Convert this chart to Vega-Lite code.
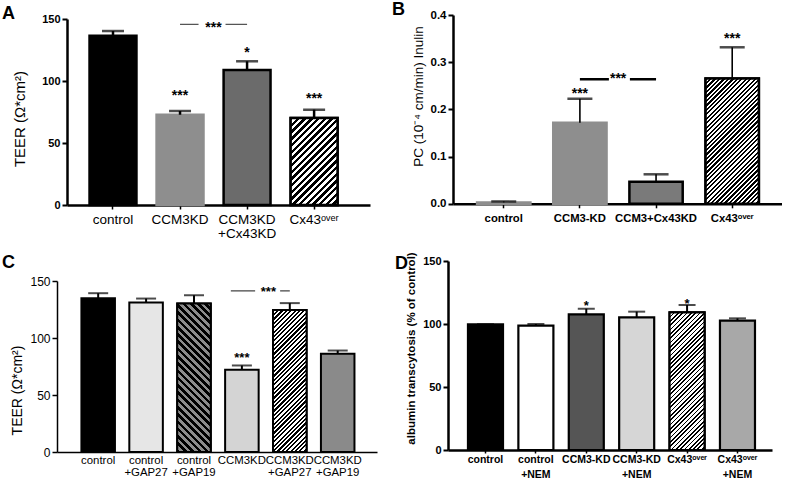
{
  "$schema": "https://vega.github.io/schema/vega-lite/v6.json",
  "background": "white",
  "padding": {"left": 2, "top": 1, "right": 0, "bottom": 0},
  "autosize": {"type": "pad"},
  "config": {
    "view": {"stroke": null},
    "font": "Liberation Sans",
    "axis": {"labelFont": "Liberation Sans", "titleFont": "Liberation Sans", "labelColor": "#000", "titleColor": "#000", "domainColor": "#000", "tickColor": "#000", "grid": false},
    "title": {"font": "Liberation Sans", "color": "#000"},
    "text": {"font": "Liberation Sans", "color": "#000"}
  },
  "resolve": {"scale": {"fill": "independent", "stroke": "independent"}},
  "datasets": {
    "A": [
      {"g": "control", "v": 136.5, "hi": 140.3, "s": "", "sy": 0},
      {"g": "CCM3KD", "v": 72.8, "hi": 75.8, "s": "***", "sy": 84.3},
      {"g": "CCM3KD|+Cx43KD", "v": 108.9, "hi": 115.9, "s": "*", "sy": 119},
      {"g": "Cx43ᵒᵛᵉʳ", "v": 70.2, "hi": 76.9, "s": "***", "sy": 81.9}
    ],
    "Asig": [{"a": "CCM3KD", "b": "CCM3KD|+Cx43KD", "y": 145.7, "ty": 139.7, "t": "***"}],
    "B": [
      {"g": "control", "v": 0.003, "hi": 0.005, "s": "", "sy": 0},
      {"g": "CCM3-KD", "v": 0.1718, "hi": 0.2227, "s": "***", "sy": 0.2241},
      {"g": "CCM3+Cx43KD", "v": 0.0468, "hi": 0.0625, "s": "", "sy": 0},
      {"g": "Cx43ᵒᵛᵉʳ", "v": 0.2655, "hi": 0.3316, "s": "***", "sy": 0.3407}
    ],
    "Bsig": [{"a": "CCM3-KD", "b": "CCM3+Cx43KD", "y": 0.2638, "ty": 0.2559, "t": "***"}],
    "C": [
      {"g": "control", "v": 134.9, "hi": 139.3, "s": "", "sy": 0},
      {"g": "control|+GAP27", "v": 131.1, "hi": 134.6, "s": "", "sy": 0},
      {"g": "control|+GAP19", "v": 130.2, "hi": 137.5, "s": "", "sy": 0},
      {"g": "CCM3KD", "v": 72.1, "hi": 75.9, "s": "***", "sy": 78.9},
      {"g": "CCM3KD|+GAP27", "v": 124.5, "hi": 130.6, "s": "", "sy": 0},
      {"g": "CCM3KD|+GAP19", "v": 86.1, "hi": 89, "s": "", "sy": 0}
    ],
    "Csig": [{"a": "CCM3KD", "b": "CCM3KD|+GAP27", "y": 141.3, "ty": 136.5, "t": "***"}],
    "D": [
      {"g": "control", "v": 99.8, "hi": 99.8, "s": "", "sy": 0},
      {"g": "control|+NEM", "v": 98.7, "hi": 100, "s": "", "sy": 0},
      {"g": "CCM3-KD", "v": 107.7, "hi": 112.1, "s": "*", "sy": 111.1},
      {"g": "CCM3-KD|+NEM", "v": 105.3, "hi": 109.8, "s": "", "sy": 0},
      {"g": "Cx43ᵒᵛᵉʳ", "v": 109.3, "hi": 115.1, "s": "*", "sy": 112.7},
      {"g": "Cx43ᵒᵛᵉʳ|+NEM", "v": 102.6, "hi": 104.5, "s": "", "sy": 0}
    ]
  },
  "columns": 2,
  "spacing": {"row": 56, "column": 71},
  "bounds": "flush",
  "concat": [
    {
      "width": 320, "height": 190,
      "title": {"text": "A", "anchor": "start", "frame": "group", "fontSize": 18, "fontWeight": "bold", "dx": -55, "dy": 24, "offset": 0, "baseline": "alphabetic"},
      "data": {"name": "A"},
      "layer": [
        {
          "mark": {"type": "bar", "strokeWidth": 2.5},
          "encoding": {
            "x": {"field": "g", "type": "nominal",
              "scale": {"domain": ["control", "CCM3KD", "CCM3KD|+Cx43KD", "Cx43ᵒᵛᵉʳ"], "range": [10, 313], "paddingInner": 0.3, "paddingOuter": 0.41, "align": 0.41},
              "axis": {"title": null, "labelAngle": 0, "labelExpr": "split(datum.label, '|')", "labelFontSize": 13.5, "labelLineHeight": 14, "labelPadding": 3, "tickSize": 4, "tickWidth": 1.5, "domainWidth": 2.5}},
            "y": {"field": "v", "type": "quantitative",
              "scale": {"domain": [0, 150], "range": [190, 4], "nice": false},
              "axis": {"title": "TEER (Ω*cm²)", "values": [0, 50, 100, 150], "offset": -10, "labelFontWeight": "bold", "labelFontSize": 11, "labelPadding": 2, "titleFontSize": 15, "titleFontWeight": "normal", "titleX": -40, "titleY": 103.5, "tickSize": 5, "tickWidth": 2, "domainWidth": 2.5}},
            "fill": {"field": "g", "type": "nominal", "legend": null,
              "scale": {"domain": ["control", "CCM3KD", "CCM3KD|+Cx43KD", "Cx43ᵒᵛᵉʳ"], "range": ["#000000", "#8e8e8e", "#6b6b6b", "#9a9a9a"]}},
            "stroke": {"field": "g", "type": "nominal", "legend": null,
              "scale": {"domain": ["control", "CCM3KD", "CCM3KD|+Cx43KD", "Cx43ᵒᵛᵉʳ"], "range": ["#000000", "#8e8e8e", "#000000", "#000000"]}}
          }
        },
        {
          "transform": [{"filter": "datum.g == 'Cx43ᵒᵛᵉʳ'"}],
          "mark": {"type": "bar", "stroke": "#000", "strokeWidth": 2.5,
            "fill": {"gradient": "linear", "x1": 0, "y1": 0, "x2": 0.6428, "y2": 1.1926, "stops": [
              {"offset":0,"color":"#000"},{"offset":0.025,"color":"#000"},{"offset":0.025,"color":"#fff"},{"offset":0.05,"color":"#fff"},
              {"offset":0.05,"color":"#000"},{"offset":0.075,"color":"#000"},{"offset":0.075,"color":"#fff"},{"offset":0.1,"color":"#fff"},
              {"offset":0.1,"color":"#000"},{"offset":0.125,"color":"#000"},{"offset":0.125,"color":"#fff"},{"offset":0.15,"color":"#fff"},
              {"offset":0.15,"color":"#000"},{"offset":0.175,"color":"#000"},{"offset":0.175,"color":"#fff"},{"offset":0.2,"color":"#fff"},
              {"offset":0.2,"color":"#000"},{"offset":0.225,"color":"#000"},{"offset":0.225,"color":"#fff"},{"offset":0.25,"color":"#fff"},
              {"offset":0.25,"color":"#000"},{"offset":0.275,"color":"#000"},{"offset":0.275,"color":"#fff"},{"offset":0.3,"color":"#fff"},
              {"offset":0.3,"color":"#000"},{"offset":0.325,"color":"#000"},{"offset":0.325,"color":"#fff"},{"offset":0.35,"color":"#fff"},
              {"offset":0.35,"color":"#000"},{"offset":0.375,"color":"#000"},{"offset":0.375,"color":"#fff"},{"offset":0.4,"color":"#fff"},
              {"offset":0.4,"color":"#000"},{"offset":0.425,"color":"#000"},{"offset":0.425,"color":"#fff"},{"offset":0.45,"color":"#fff"},
              {"offset":0.45,"color":"#000"},{"offset":0.475,"color":"#000"},{"offset":0.475,"color":"#fff"},{"offset":0.5,"color":"#fff"},
              {"offset":0.5,"color":"#000"},{"offset":0.525,"color":"#000"},{"offset":0.525,"color":"#fff"},{"offset":0.55,"color":"#fff"},
              {"offset":0.55,"color":"#000"},{"offset":0.575,"color":"#000"},{"offset":0.575,"color":"#fff"},{"offset":0.6,"color":"#fff"},
              {"offset":0.6,"color":"#000"},{"offset":0.625,"color":"#000"},{"offset":0.625,"color":"#fff"},{"offset":0.65,"color":"#fff"},
              {"offset":0.65,"color":"#000"},{"offset":0.675,"color":"#000"},{"offset":0.675,"color":"#fff"},{"offset":0.7,"color":"#fff"},
              {"offset":0.7,"color":"#000"},{"offset":0.725,"color":"#000"},{"offset":0.725,"color":"#fff"},{"offset":0.75,"color":"#fff"},
              {"offset":0.75,"color":"#000"},{"offset":0.775,"color":"#000"},{"offset":0.775,"color":"#fff"},{"offset":0.8,"color":"#fff"},
              {"offset":0.8,"color":"#000"},{"offset":0.825,"color":"#000"},{"offset":0.825,"color":"#fff"},{"offset":0.85,"color":"#fff"},
              {"offset":0.85,"color":"#000"},{"offset":0.875,"color":"#000"},{"offset":0.875,"color":"#fff"},{"offset":0.9,"color":"#fff"},
              {"offset":0.9,"color":"#000"},{"offset":0.925,"color":"#000"},{"offset":0.925,"color":"#fff"},{"offset":0.95,"color":"#fff"},
              {"offset":0.95,"color":"#000"},{"offset":0.975,"color":"#000"},{"offset":0.975,"color":"#fff"},{"offset":1,"color":"#fff"}
            ]}},
          "encoding": {"x": {"field": "g", "type": "nominal"}, "y": {"field": "v", "type": "quantitative"}}
        },
        {"mark": {"type": "rule", "color": "#000", "strokeWidth": 2.5},
          "encoding": {"x": {"field": "g", "type": "nominal"}, "y": {"field": "v", "type": "quantitative"}, "y2": {"field": "hi"}}},
        {"mark": {"type": "tick", "color": "#000", "thickness": 2.5, "size": 22},
          "encoding": {"x": {"field": "g", "type": "nominal"}, "y": {"field": "hi", "type": "quantitative"}}},
        {"mark": {"type": "text", "fontSize": 14, "fontWeight": "bold", "baseline": "alphabetic", "align": "center"},
          "encoding": {"x": {"field": "g", "type": "nominal"}, "y": {"field": "sy", "type": "quantitative"}, "text": {"field": "s"}}},
        {"data": {"name": "Asig"}, "mark": {"type": "rule", "color": "#555", "strokeWidth": 1.3, "strokeDash": [18.5, 27, 60]},
          "encoding": {"x": {"field": "a", "type": "nominal"}, "x2": {"field": "b"}, "y": {"field": "y", "type": "quantitative"}}},
        {"data": {"name": "Asig"}, "mark": {"type": "text", "fontSize": 14, "fontWeight": "bold", "baseline": "alphabetic", "align": "center"},
          "encoding": {"x": {"field": "a", "type": "nominal", "bandPosition": 1.213}, "y": {"field": "ty", "type": "quantitative"}, "text": {"field": "t"}}}
      ]
    },
    {
      "width": 334, "height": 188.8,
      "title": {"text": "B", "anchor": "start", "frame": "group", "fontSize": 18, "fontWeight": "bold", "dx": -56, "dy": 24, "offset": 0, "baseline": "alphabetic"},
      "data": {"name": "B"},
      "layer": [
        {
          "mark": {"type": "bar", "strokeWidth": 2.5},
          "encoding": {
            "x": {"field": "g", "type": "nominal",
              "scale": {"domain": ["control", "CCM3-KD", "CCM3+Cx43KD", "Cx43ᵒᵛᵉʳ"], "range": [5, 334], "paddingInner": 0.3, "paddingOuter": 0.31, "align": 0.51},
              "axis": {"title": null, "labelAngle": 0, "labelFontSize": 11.3, "labelFontWeight": "bold", "labelPadding": 5, "tickSize": 4, "tickWidth": 1.5, "domainWidth": 2.5}},
            "y": {"field": "v", "type": "quantitative",
              "scale": {"domain": [0, 0.4], "range": [188.8, 0], "nice": false},
              "axis": {"title": "PC (10⁻⁴ cm/min) Inulin", "values": [0, 0.1, 0.2, 0.3, 0.4], "format": ".1f", "offset": -5, "labelFontWeight": "bold", "labelFontSize": 11.5, "labelPadding": 2, "titleFontSize": 13.5, "titleFontWeight": "normal", "titleX": -28, "titleY": 81, "tickSize": 5, "tickWidth": 2, "domainWidth": 2.5}},
            "fill": {"field": "g", "type": "nominal", "legend": null,
              "scale": {"domain": ["control", "CCM3-KD", "CCM3+Cx43KD", "Cx43ᵒᵛᵉʳ"], "range": ["#8e8e8e", "#8e8e8e", "#7a7a7a", "#9a9a9a"]}},
            "stroke": {"field": "g", "type": "nominal", "legend": null,
              "scale": {"domain": ["control", "CCM3-KD", "CCM3+Cx43KD", "Cx43ᵒᵛᵉʳ"], "range": ["#8e8e8e", "#8e8e8e", "#000000", "#000000"]}}
          }
        },
        {
          "transform": [{"filter": "datum.g == 'Cx43ᵒᵛᵉʳ'"}],
          "mark": {"type": "bar", "stroke": "#000", "strokeWidth": 2.5,
            "fill": {"gradient": "linear", "x1": 0, "y1": 0, "x2": 0.5134, "y2": 1.2069, "stops": [
              {"offset":0,"color":"#000"},{"offset":0.0125,"color":"#000"},{"offset":0.0125,"color":"#fff"},{"offset":0.025,"color":"#fff"},
              {"offset":0.025,"color":"#000"},{"offset":0.0375,"color":"#000"},{"offset":0.0375,"color":"#fff"},{"offset":0.05,"color":"#fff"},
              {"offset":0.05,"color":"#000"},{"offset":0.0625,"color":"#000"},{"offset":0.0625,"color":"#fff"},{"offset":0.075,"color":"#fff"},
              {"offset":0.075,"color":"#000"},{"offset":0.0875,"color":"#000"},{"offset":0.0875,"color":"#fff"},{"offset":0.1,"color":"#fff"},
              {"offset":0.1,"color":"#000"},{"offset":0.1125,"color":"#000"},{"offset":0.1125,"color":"#fff"},{"offset":0.125,"color":"#fff"},
              {"offset":0.125,"color":"#000"},{"offset":0.1375,"color":"#000"},{"offset":0.1375,"color":"#fff"},{"offset":0.15,"color":"#fff"},
              {"offset":0.15,"color":"#000"},{"offset":0.1625,"color":"#000"},{"offset":0.1625,"color":"#fff"},{"offset":0.175,"color":"#fff"},
              {"offset":0.175,"color":"#000"},{"offset":0.1875,"color":"#000"},{"offset":0.1875,"color":"#fff"},{"offset":0.2,"color":"#fff"},
              {"offset":0.2,"color":"#000"},{"offset":0.2125,"color":"#000"},{"offset":0.2125,"color":"#fff"},{"offset":0.225,"color":"#fff"},
              {"offset":0.225,"color":"#000"},{"offset":0.2375,"color":"#000"},{"offset":0.2375,"color":"#fff"},{"offset":0.25,"color":"#fff"},
              {"offset":0.25,"color":"#000"},{"offset":0.2625,"color":"#000"},{"offset":0.2625,"color":"#fff"},{"offset":0.275,"color":"#fff"},
              {"offset":0.275,"color":"#000"},{"offset":0.2875,"color":"#000"},{"offset":0.2875,"color":"#fff"},{"offset":0.3,"color":"#fff"},
              {"offset":0.3,"color":"#000"},{"offset":0.3125,"color":"#000"},{"offset":0.3125,"color":"#fff"},{"offset":0.325,"color":"#fff"},
              {"offset":0.325,"color":"#000"},{"offset":0.3375,"color":"#000"},{"offset":0.3375,"color":"#fff"},{"offset":0.35,"color":"#fff"},
              {"offset":0.35,"color":"#000"},{"offset":0.3625,"color":"#000"},{"offset":0.3625,"color":"#fff"},{"offset":0.375,"color":"#fff"},
              {"offset":0.375,"color":"#000"},{"offset":0.3875,"color":"#000"},{"offset":0.3875,"color":"#fff"},{"offset":0.4,"color":"#fff"},
              {"offset":0.4,"color":"#000"},{"offset":0.4125,"color":"#000"},{"offset":0.4125,"color":"#fff"},{"offset":0.425,"color":"#fff"},
              {"offset":0.425,"color":"#000"},{"offset":0.4375,"color":"#000"},{"offset":0.4375,"color":"#fff"},{"offset":0.45,"color":"#fff"},
              {"offset":0.45,"color":"#000"},{"offset":0.4625,"color":"#000"},{"offset":0.4625,"color":"#fff"},{"offset":0.475,"color":"#fff"},
              {"offset":0.475,"color":"#000"},{"offset":0.4875,"color":"#000"},{"offset":0.4875,"color":"#fff"},{"offset":0.5,"color":"#fff"},
              {"offset":0.5,"color":"#000"},{"offset":0.5125,"color":"#000"},{"offset":0.5125,"color":"#fff"},{"offset":0.525,"color":"#fff"},
              {"offset":0.525,"color":"#000"},{"offset":0.5375,"color":"#000"},{"offset":0.5375,"color":"#fff"},{"offset":0.55,"color":"#fff"},
              {"offset":0.55,"color":"#000"},{"offset":0.5625,"color":"#000"},{"offset":0.5625,"color":"#fff"},{"offset":0.575,"color":"#fff"},
              {"offset":0.575,"color":"#000"},{"offset":0.5875,"color":"#000"},{"offset":0.5875,"color":"#fff"},{"offset":0.6,"color":"#fff"},
              {"offset":0.6,"color":"#000"},{"offset":0.6125,"color":"#000"},{"offset":0.6125,"color":"#fff"},{"offset":0.625,"color":"#fff"},
              {"offset":0.625,"color":"#000"},{"offset":0.6375,"color":"#000"},{"offset":0.6375,"color":"#fff"},{"offset":0.65,"color":"#fff"},
              {"offset":0.65,"color":"#000"},{"offset":0.6625,"color":"#000"},{"offset":0.6625,"color":"#fff"},{"offset":0.675,"color":"#fff"},
              {"offset":0.675,"color":"#000"},{"offset":0.6875,"color":"#000"},{"offset":0.6875,"color":"#fff"},{"offset":0.7,"color":"#fff"},
              {"offset":0.7,"color":"#000"},{"offset":0.7125,"color":"#000"},{"offset":0.7125,"color":"#fff"},{"offset":0.725,"color":"#fff"},
              {"offset":0.725,"color":"#000"},{"offset":0.7375,"color":"#000"},{"offset":0.7375,"color":"#fff"},{"offset":0.75,"color":"#fff"},
              {"offset":0.75,"color":"#000"},{"offset":0.7625,"color":"#000"},{"offset":0.7625,"color":"#fff"},{"offset":0.775,"color":"#fff"},
              {"offset":0.775,"color":"#000"},{"offset":0.7875,"color":"#000"},{"offset":0.7875,"color":"#fff"},{"offset":0.8,"color":"#fff"},
              {"offset":0.8,"color":"#000"},{"offset":0.8125,"color":"#000"},{"offset":0.8125,"color":"#fff"},{"offset":0.825,"color":"#fff"},
              {"offset":0.825,"color":"#000"},{"offset":0.8375,"color":"#000"},{"offset":0.8375,"color":"#fff"},{"offset":0.85,"color":"#fff"},
              {"offset":0.85,"color":"#000"},{"offset":0.8625,"color":"#000"},{"offset":0.8625,"color":"#fff"},{"offset":0.875,"color":"#fff"},
              {"offset":0.875,"color":"#000"},{"offset":0.8875,"color":"#000"},{"offset":0.8875,"color":"#fff"},{"offset":0.9,"color":"#fff"},
              {"offset":0.9,"color":"#000"},{"offset":0.9125,"color":"#000"},{"offset":0.9125,"color":"#fff"},{"offset":0.925,"color":"#fff"},
              {"offset":0.925,"color":"#000"},{"offset":0.9375,"color":"#000"},{"offset":0.9375,"color":"#fff"},{"offset":0.95,"color":"#fff"},
              {"offset":0.95,"color":"#000"},{"offset":0.9625,"color":"#000"},{"offset":0.9625,"color":"#fff"},{"offset":0.975,"color":"#fff"},
              {"offset":0.975,"color":"#000"},{"offset":0.9875,"color":"#000"},{"offset":0.9875,"color":"#fff"},{"offset":1,"color":"#fff"}
            ]}},
          "encoding": {"x": {"field": "g", "type": "nominal"}, "y": {"field": "v", "type": "quantitative"}}
        },
        {"mark": {"type": "rule", "color": "#000", "strokeWidth": 1.6},
          "encoding": {"x": {"field": "g", "type": "nominal"}, "y": {"field": "v", "type": "quantitative"}, "y2": {"field": "hi"}}},
        {"mark": {"type": "tick", "color": "#000", "thickness": 2.5, "size": 25},
          "encoding": {"x": {"field": "g", "type": "nominal"}, "y": {"field": "hi", "type": "quantitative"}}},
        {"mark": {"type": "text", "fontSize": 14, "fontWeight": "bold", "baseline": "alphabetic", "align": "center"},
          "encoding": {"x": {"field": "g", "type": "nominal"}, "y": {"field": "sy", "type": "quantitative"}, "text": {"field": "s"}}},
        {"data": {"name": "Bsig"}, "mark": {"type": "rule", "color": "#000", "strokeWidth": 2.5, "strokeDash": [29, 21, 60]},
          "encoding": {"x": {"field": "a", "type": "nominal"}, "x2": {"field": "b"}, "y": {"field": "y", "type": "quantitative"}}},
        {"data": {"name": "Bsig"}, "mark": {"type": "text", "fontSize": 14, "fontWeight": "bold", "baseline": "alphabetic", "align": "center"},
          "encoding": {"x": {"field": "a", "type": "nominal", "bandPosition": 1.217}, "y": {"field": "ty", "type": "quantitative"}, "text": {"field": "t"}}}
      ]
    },
    {
      "width": 320, "height": 191,
      "title": {"text": "C", "anchor": "start", "frame": "group", "fontSize": 18, "fontWeight": "bold", "dx": -55, "dy": 25, "offset": 0, "baseline": "alphabetic"},
      "data": {"name": "C"},
      "layer": [
        {
          "mark": {"type": "bar", "strokeWidth": 2},
          "encoding": {
            "x": {"field": "g", "type": "nominal",
              "scale": {"domain": ["control", "control|+GAP27", "control|+GAP19", "CCM3KD", "CCM3KD|+GAP27", "CCM3KD|+GAP19"], "range": [0, 320], "paddingInner": 0.3, "paddingOuter": 0.49, "align": 0.52},
              "axis": {"title": null, "labelAngle": 0, "labelExpr": "split(datum.label, '|')", "labelFontSize": 11.4, "labelLineHeight": 12.5, "labelPadding": 2, "tickSize": 0, "domainWidth": 1.5}},
            "y": {"field": "v", "type": "quantitative",
              "scale": {"domain": [0, 150], "range": [191, 20], "nice": false},
              "axis": {"title": "TEER (Ω*cm²)", "values": [0, 50, 100, 150], "labelFontSize": 12, "labelPadding": 2, "titleFontSize": 14, "titleFontWeight": "normal", "titleX": -33, "titleY": 129, "tickSize": 5, "tickWidth": 1.5, "domainWidth": 1.5}},
            "fill": {"field": "g", "type": "nominal", "legend": null,
              "scale": {"domain": ["control", "control|+GAP27", "control|+GAP19", "CCM3KD", "CCM3KD|+GAP27", "CCM3KD|+GAP19"], "range": ["#000000", "#e6e6e6", "#5a5a5a", "#d4d4d4", "#8f8f8f", "#8a8a8a"]}},
            "stroke": {"value": "#000"}
          }
        },
        {
          "transform": [{"filter": "datum.g == 'control|+GAP19'"}],
          "mark": {"type": "bar", "stroke": "#000", "strokeWidth": 2,
            "fill": {"gradient": "linear", "x1": 0, "y1": 1, "x2": 0.2635, "y2": -0.1665, "stops": [
              {"offset":0,"color":"#000"},{"offset":0.02,"color":"#000"},{"offset":0.02,"color":"#8c8c8c"},{"offset":0.04,"color":"#8c8c8c"},
              {"offset":0.04,"color":"#000"},{"offset":0.06,"color":"#000"},{"offset":0.06,"color":"#8c8c8c"},{"offset":0.08,"color":"#8c8c8c"},
              {"offset":0.08,"color":"#000"},{"offset":0.1,"color":"#000"},{"offset":0.1,"color":"#8c8c8c"},{"offset":0.12,"color":"#8c8c8c"},
              {"offset":0.12,"color":"#000"},{"offset":0.14,"color":"#000"},{"offset":0.14,"color":"#8c8c8c"},{"offset":0.16,"color":"#8c8c8c"},
              {"offset":0.16,"color":"#000"},{"offset":0.18,"color":"#000"},{"offset":0.18,"color":"#8c8c8c"},{"offset":0.2,"color":"#8c8c8c"},
              {"offset":0.2,"color":"#000"},{"offset":0.22,"color":"#000"},{"offset":0.22,"color":"#8c8c8c"},{"offset":0.24,"color":"#8c8c8c"},
              {"offset":0.24,"color":"#000"},{"offset":0.26,"color":"#000"},{"offset":0.26,"color":"#8c8c8c"},{"offset":0.28,"color":"#8c8c8c"},
              {"offset":0.28,"color":"#000"},{"offset":0.3,"color":"#000"},{"offset":0.3,"color":"#8c8c8c"},{"offset":0.32,"color":"#8c8c8c"},
              {"offset":0.32,"color":"#000"},{"offset":0.34,"color":"#000"},{"offset":0.34,"color":"#8c8c8c"},{"offset":0.36,"color":"#8c8c8c"},
              {"offset":0.36,"color":"#000"},{"offset":0.38,"color":"#000"},{"offset":0.38,"color":"#8c8c8c"},{"offset":0.4,"color":"#8c8c8c"},
              {"offset":0.4,"color":"#000"},{"offset":0.42,"color":"#000"},{"offset":0.42,"color":"#8c8c8c"},{"offset":0.44,"color":"#8c8c8c"},
              {"offset":0.44,"color":"#000"},{"offset":0.46,"color":"#000"},{"offset":0.46,"color":"#8c8c8c"},{"offset":0.48,"color":"#8c8c8c"},
              {"offset":0.48,"color":"#000"},{"offset":0.5,"color":"#000"},{"offset":0.5,"color":"#8c8c8c"},{"offset":0.52,"color":"#8c8c8c"},
              {"offset":0.52,"color":"#000"},{"offset":0.54,"color":"#000"},{"offset":0.54,"color":"#8c8c8c"},{"offset":0.56,"color":"#8c8c8c"},
              {"offset":0.56,"color":"#000"},{"offset":0.58,"color":"#000"},{"offset":0.58,"color":"#8c8c8c"},{"offset":0.6,"color":"#8c8c8c"},
              {"offset":0.6,"color":"#000"},{"offset":0.62,"color":"#000"},{"offset":0.62,"color":"#8c8c8c"},{"offset":0.64,"color":"#8c8c8c"},
              {"offset":0.64,"color":"#000"},{"offset":0.66,"color":"#000"},{"offset":0.66,"color":"#8c8c8c"},{"offset":0.68,"color":"#8c8c8c"},
              {"offset":0.68,"color":"#000"},{"offset":0.7,"color":"#000"},{"offset":0.7,"color":"#8c8c8c"},{"offset":0.72,"color":"#8c8c8c"},
              {"offset":0.72,"color":"#000"},{"offset":0.74,"color":"#000"},{"offset":0.74,"color":"#8c8c8c"},{"offset":0.76,"color":"#8c8c8c"},
              {"offset":0.76,"color":"#000"},{"offset":0.78,"color":"#000"},{"offset":0.78,"color":"#8c8c8c"},{"offset":0.8,"color":"#8c8c8c"},
              {"offset":0.8,"color":"#000"},{"offset":0.82,"color":"#000"},{"offset":0.82,"color":"#8c8c8c"},{"offset":0.84,"color":"#8c8c8c"},
              {"offset":0.84,"color":"#000"},{"offset":0.86,"color":"#000"},{"offset":0.86,"color":"#8c8c8c"},{"offset":0.88,"color":"#8c8c8c"},
              {"offset":0.88,"color":"#000"},{"offset":0.9,"color":"#000"},{"offset":0.9,"color":"#8c8c8c"},{"offset":0.92,"color":"#8c8c8c"},
              {"offset":0.92,"color":"#000"},{"offset":0.94,"color":"#000"},{"offset":0.94,"color":"#8c8c8c"},{"offset":0.96,"color":"#8c8c8c"},
              {"offset":0.96,"color":"#000"},{"offset":0.98,"color":"#000"},{"offset":0.98,"color":"#8c8c8c"},{"offset":1,"color":"#8c8c8c"}
            ]}},
          "encoding": {"x": {"field": "g", "type": "nominal"}, "y": {"field": "v", "type": "quantitative"}}
        },
        {
          "transform": [{"filter": "datum.g == 'CCM3KD|+GAP27'"}],
          "mark": {"type": "bar", "stroke": "#000", "strokeWidth": 2,
            "fill": {"gradient": "linear", "x1": 0, "y1": 0, "x2": 0.2766, "y2": 1.1708, "stops": [
              {"offset":0,"color":"#000"},{"offset":0.0125,"color":"#000"},{"offset":0.0125,"color":"#fff"},{"offset":0.025,"color":"#fff"},
              {"offset":0.025,"color":"#000"},{"offset":0.0375,"color":"#000"},{"offset":0.0375,"color":"#fff"},{"offset":0.05,"color":"#fff"},
              {"offset":0.05,"color":"#000"},{"offset":0.0625,"color":"#000"},{"offset":0.0625,"color":"#fff"},{"offset":0.075,"color":"#fff"},
              {"offset":0.075,"color":"#000"},{"offset":0.0875,"color":"#000"},{"offset":0.0875,"color":"#fff"},{"offset":0.1,"color":"#fff"},
              {"offset":0.1,"color":"#000"},{"offset":0.1125,"color":"#000"},{"offset":0.1125,"color":"#fff"},{"offset":0.125,"color":"#fff"},
              {"offset":0.125,"color":"#000"},{"offset":0.1375,"color":"#000"},{"offset":0.1375,"color":"#fff"},{"offset":0.15,"color":"#fff"},
              {"offset":0.15,"color":"#000"},{"offset":0.1625,"color":"#000"},{"offset":0.1625,"color":"#fff"},{"offset":0.175,"color":"#fff"},
              {"offset":0.175,"color":"#000"},{"offset":0.1875,"color":"#000"},{"offset":0.1875,"color":"#fff"},{"offset":0.2,"color":"#fff"},
              {"offset":0.2,"color":"#000"},{"offset":0.2125,"color":"#000"},{"offset":0.2125,"color":"#fff"},{"offset":0.225,"color":"#fff"},
              {"offset":0.225,"color":"#000"},{"offset":0.2375,"color":"#000"},{"offset":0.2375,"color":"#fff"},{"offset":0.25,"color":"#fff"},
              {"offset":0.25,"color":"#000"},{"offset":0.2625,"color":"#000"},{"offset":0.2625,"color":"#fff"},{"offset":0.275,"color":"#fff"},
              {"offset":0.275,"color":"#000"},{"offset":0.2875,"color":"#000"},{"offset":0.2875,"color":"#fff"},{"offset":0.3,"color":"#fff"},
              {"offset":0.3,"color":"#000"},{"offset":0.3125,"color":"#000"},{"offset":0.3125,"color":"#fff"},{"offset":0.325,"color":"#fff"},
              {"offset":0.325,"color":"#000"},{"offset":0.3375,"color":"#000"},{"offset":0.3375,"color":"#fff"},{"offset":0.35,"color":"#fff"},
              {"offset":0.35,"color":"#000"},{"offset":0.3625,"color":"#000"},{"offset":0.3625,"color":"#fff"},{"offset":0.375,"color":"#fff"},
              {"offset":0.375,"color":"#000"},{"offset":0.3875,"color":"#000"},{"offset":0.3875,"color":"#fff"},{"offset":0.4,"color":"#fff"},
              {"offset":0.4,"color":"#000"},{"offset":0.4125,"color":"#000"},{"offset":0.4125,"color":"#fff"},{"offset":0.425,"color":"#fff"},
              {"offset":0.425,"color":"#000"},{"offset":0.4375,"color":"#000"},{"offset":0.4375,"color":"#fff"},{"offset":0.45,"color":"#fff"},
              {"offset":0.45,"color":"#000"},{"offset":0.4625,"color":"#000"},{"offset":0.4625,"color":"#fff"},{"offset":0.475,"color":"#fff"},
              {"offset":0.475,"color":"#000"},{"offset":0.4875,"color":"#000"},{"offset":0.4875,"color":"#fff"},{"offset":0.5,"color":"#fff"},
              {"offset":0.5,"color":"#000"},{"offset":0.5125,"color":"#000"},{"offset":0.5125,"color":"#fff"},{"offset":0.525,"color":"#fff"},
              {"offset":0.525,"color":"#000"},{"offset":0.5375,"color":"#000"},{"offset":0.5375,"color":"#fff"},{"offset":0.55,"color":"#fff"},
              {"offset":0.55,"color":"#000"},{"offset":0.5625,"color":"#000"},{"offset":0.5625,"color":"#fff"},{"offset":0.575,"color":"#fff"},
              {"offset":0.575,"color":"#000"},{"offset":0.5875,"color":"#000"},{"offset":0.5875,"color":"#fff"},{"offset":0.6,"color":"#fff"},
              {"offset":0.6,"color":"#000"},{"offset":0.6125,"color":"#000"},{"offset":0.6125,"color":"#fff"},{"offset":0.625,"color":"#fff"},
              {"offset":0.625,"color":"#000"},{"offset":0.6375,"color":"#000"},{"offset":0.6375,"color":"#fff"},{"offset":0.65,"color":"#fff"},
              {"offset":0.65,"color":"#000"},{"offset":0.6625,"color":"#000"},{"offset":0.6625,"color":"#fff"},{"offset":0.675,"color":"#fff"},
              {"offset":0.675,"color":"#000"},{"offset":0.6875,"color":"#000"},{"offset":0.6875,"color":"#fff"},{"offset":0.7,"color":"#fff"},
              {"offset":0.7,"color":"#000"},{"offset":0.7125,"color":"#000"},{"offset":0.7125,"color":"#fff"},{"offset":0.725,"color":"#fff"},
              {"offset":0.725,"color":"#000"},{"offset":0.7375,"color":"#000"},{"offset":0.7375,"color":"#fff"},{"offset":0.75,"color":"#fff"},
              {"offset":0.75,"color":"#000"},{"offset":0.7625,"color":"#000"},{"offset":0.7625,"color":"#fff"},{"offset":0.775,"color":"#fff"},
              {"offset":0.775,"color":"#000"},{"offset":0.7875,"color":"#000"},{"offset":0.7875,"color":"#fff"},{"offset":0.8,"color":"#fff"},
              {"offset":0.8,"color":"#000"},{"offset":0.8125,"color":"#000"},{"offset":0.8125,"color":"#fff"},{"offset":0.825,"color":"#fff"},
              {"offset":0.825,"color":"#000"},{"offset":0.8375,"color":"#000"},{"offset":0.8375,"color":"#fff"},{"offset":0.85,"color":"#fff"},
              {"offset":0.85,"color":"#000"},{"offset":0.8625,"color":"#000"},{"offset":0.8625,"color":"#fff"},{"offset":0.875,"color":"#fff"},
              {"offset":0.875,"color":"#000"},{"offset":0.8875,"color":"#000"},{"offset":0.8875,"color":"#fff"},{"offset":0.9,"color":"#fff"},
              {"offset":0.9,"color":"#000"},{"offset":0.9125,"color":"#000"},{"offset":0.9125,"color":"#fff"},{"offset":0.925,"color":"#fff"},
              {"offset":0.925,"color":"#000"},{"offset":0.9375,"color":"#000"},{"offset":0.9375,"color":"#fff"},{"offset":0.95,"color":"#fff"},
              {"offset":0.95,"color":"#000"},{"offset":0.9625,"color":"#000"},{"offset":0.9625,"color":"#fff"},{"offset":0.975,"color":"#fff"},
              {"offset":0.975,"color":"#000"},{"offset":0.9875,"color":"#000"},{"offset":0.9875,"color":"#fff"},{"offset":1,"color":"#fff"}
            ]}},
          "encoding": {"x": {"field": "g", "type": "nominal"}, "y": {"field": "v", "type": "quantitative"}}
        },
        {"mark": {"type": "rule", "color": "#000", "strokeWidth": 2},
          "encoding": {"x": {"field": "g", "type": "nominal"}, "y": {"field": "v", "type": "quantitative"}, "y2": {"field": "hi"}}},
        {"mark": {"type": "tick", "color": "#000", "thickness": 2, "size": 20},
          "encoding": {"x": {"field": "g", "type": "nominal"}, "y": {"field": "hi", "type": "quantitative"}}},
        {"mark": {"type": "text", "fontSize": 13, "fontWeight": "bold", "baseline": "alphabetic", "align": "center"},
          "encoding": {"x": {"field": "g", "type": "nominal"}, "y": {"field": "sy", "type": "quantitative"}, "text": {"field": "s"}}},
        {"data": {"name": "Csig"}, "mark": {"type": "rule", "color": "#444", "strokeWidth": 1.3, "strokeDash": [24.3, 25, 60]},
          "encoding": {"x": {"field": "a", "type": "nominal", "bandPosition": 0.17}, "x2": {"field": "b"}, "y": {"field": "y", "type": "quantitative"}}},
        {"data": {"name": "Csig"}, "mark": {"type": "text", "fontSize": 13, "fontWeight": "bold", "baseline": "alphabetic", "align": "center"},
          "encoding": {"x": {"field": "a", "type": "nominal", "bandPosition": 1.29}, "y": {"field": "ty", "type": "quantitative"}, "text": {"field": "t"}}}
      ]
    },
    {
      "width": 334, "height": 189,
      "title": {"text": "D", "anchor": "start", "frame": "group", "fontSize": 18, "fontWeight": "bold", "dx": -53, "dy": 35, "offset": 0, "baseline": "alphabetic"},
      "data": {"name": "D"},
      "layer": [
        {
          "mark": {"type": "bar", "strokeWidth": 2.2},
          "encoding": {
            "x": {"field": "g", "type": "nominal",
              "scale": {"domain": ["control", "control|+NEM", "CCM3-KD", "CCM3-KD|+NEM", "Cx43ᵒᵛᵉʳ", "Cx43ᵒᵛᵉʳ|+NEM"], "range": [0, 324], "paddingInner": 0.305, "paddingOuter": 0.367, "align": 0.54},
              "axis": {"title": null, "labelAngle": 0, "labelExpr": "split(datum.label, '|')", "labelFontSize": 10.5, "labelFontWeight": "bold", "labelLineHeight": 15, "labelPadding": 1, "tickSize": 3, "tickWidth": 1.5, "domainWidth": 2.5}},
            "y": {"field": "v", "type": "quantitative",
              "scale": {"domain": [0, 150], "range": [189, 0], "nice": false},
              "axis": {"title": "albumin transcytosis (% of control)", "values": [0, 50, 100, 150], "labelFontWeight": "bold", "labelFontSize": 11, "labelPadding": 2, "titleFontSize": 11.5, "titleFontWeight": "bold", "titleX": -32, "titleY": 87, "tickSize": 5, "tickWidth": 2, "domainWidth": 2.5}},
            "fill": {"field": "g", "type": "nominal", "legend": null,
              "scale": {"domain": ["control", "control|+NEM", "CCM3-KD", "CCM3-KD|+NEM", "Cx43ᵒᵛᵉʳ", "Cx43ᵒᵛᵉʳ|+NEM"], "range": ["#000000", "#ffffff", "#555555", "#d6d6d6", "#b5b5b5", "#a8a8a8"]}},
            "stroke": {"value": "#000"}
          }
        },
        {
          "transform": [{"filter": "datum.g == 'Cx43ᵒᵛᵉʳ'"}],
          "mark": {"type": "bar", "stroke": "#000", "strokeWidth": 2.2,
            "fill": {"gradient": "linear", "x1": 0, "y1": 0, "x2": 0.2997, "y2": 1.1782, "stops": [
              {"offset":0,"color":"#000"},{"offset":0.01,"color":"#000"},{"offset":0.01,"color":"#fff"},{"offset":0.025,"color":"#fff"},
              {"offset":0.025,"color":"#000"},{"offset":0.035,"color":"#000"},{"offset":0.035,"color":"#fff"},{"offset":0.05,"color":"#fff"},
              {"offset":0.05,"color":"#000"},{"offset":0.06,"color":"#000"},{"offset":0.06,"color":"#fff"},{"offset":0.075,"color":"#fff"},
              {"offset":0.075,"color":"#000"},{"offset":0.085,"color":"#000"},{"offset":0.085,"color":"#fff"},{"offset":0.1,"color":"#fff"},
              {"offset":0.1,"color":"#000"},{"offset":0.11,"color":"#000"},{"offset":0.11,"color":"#fff"},{"offset":0.125,"color":"#fff"},
              {"offset":0.125,"color":"#000"},{"offset":0.135,"color":"#000"},{"offset":0.135,"color":"#fff"},{"offset":0.15,"color":"#fff"},
              {"offset":0.15,"color":"#000"},{"offset":0.16,"color":"#000"},{"offset":0.16,"color":"#fff"},{"offset":0.175,"color":"#fff"},
              {"offset":0.175,"color":"#000"},{"offset":0.185,"color":"#000"},{"offset":0.185,"color":"#fff"},{"offset":0.2,"color":"#fff"},
              {"offset":0.2,"color":"#000"},{"offset":0.21,"color":"#000"},{"offset":0.21,"color":"#fff"},{"offset":0.225,"color":"#fff"},
              {"offset":0.225,"color":"#000"},{"offset":0.235,"color":"#000"},{"offset":0.235,"color":"#fff"},{"offset":0.25,"color":"#fff"},
              {"offset":0.25,"color":"#000"},{"offset":0.26,"color":"#000"},{"offset":0.26,"color":"#fff"},{"offset":0.275,"color":"#fff"},
              {"offset":0.275,"color":"#000"},{"offset":0.285,"color":"#000"},{"offset":0.285,"color":"#fff"},{"offset":0.3,"color":"#fff"},
              {"offset":0.3,"color":"#000"},{"offset":0.31,"color":"#000"},{"offset":0.31,"color":"#fff"},{"offset":0.325,"color":"#fff"},
              {"offset":0.325,"color":"#000"},{"offset":0.335,"color":"#000"},{"offset":0.335,"color":"#fff"},{"offset":0.35,"color":"#fff"},
              {"offset":0.35,"color":"#000"},{"offset":0.36,"color":"#000"},{"offset":0.36,"color":"#fff"},{"offset":0.375,"color":"#fff"},
              {"offset":0.375,"color":"#000"},{"offset":0.385,"color":"#000"},{"offset":0.385,"color":"#fff"},{"offset":0.4,"color":"#fff"},
              {"offset":0.4,"color":"#000"},{"offset":0.41,"color":"#000"},{"offset":0.41,"color":"#fff"},{"offset":0.425,"color":"#fff"},
              {"offset":0.425,"color":"#000"},{"offset":0.435,"color":"#000"},{"offset":0.435,"color":"#fff"},{"offset":0.45,"color":"#fff"},
              {"offset":0.45,"color":"#000"},{"offset":0.46,"color":"#000"},{"offset":0.46,"color":"#fff"},{"offset":0.475,"color":"#fff"},
              {"offset":0.475,"color":"#000"},{"offset":0.485,"color":"#000"},{"offset":0.485,"color":"#fff"},{"offset":0.5,"color":"#fff"},
              {"offset":0.5,"color":"#000"},{"offset":0.51,"color":"#000"},{"offset":0.51,"color":"#fff"},{"offset":0.525,"color":"#fff"},
              {"offset":0.525,"color":"#000"},{"offset":0.535,"color":"#000"},{"offset":0.535,"color":"#fff"},{"offset":0.55,"color":"#fff"},
              {"offset":0.55,"color":"#000"},{"offset":0.56,"color":"#000"},{"offset":0.56,"color":"#fff"},{"offset":0.575,"color":"#fff"},
              {"offset":0.575,"color":"#000"},{"offset":0.585,"color":"#000"},{"offset":0.585,"color":"#fff"},{"offset":0.6,"color":"#fff"},
              {"offset":0.6,"color":"#000"},{"offset":0.61,"color":"#000"},{"offset":0.61,"color":"#fff"},{"offset":0.625,"color":"#fff"},
              {"offset":0.625,"color":"#000"},{"offset":0.635,"color":"#000"},{"offset":0.635,"color":"#fff"},{"offset":0.65,"color":"#fff"},
              {"offset":0.65,"color":"#000"},{"offset":0.66,"color":"#000"},{"offset":0.66,"color":"#fff"},{"offset":0.675,"color":"#fff"},
              {"offset":0.675,"color":"#000"},{"offset":0.685,"color":"#000"},{"offset":0.685,"color":"#fff"},{"offset":0.7,"color":"#fff"},
              {"offset":0.7,"color":"#000"},{"offset":0.71,"color":"#000"},{"offset":0.71,"color":"#fff"},{"offset":0.725,"color":"#fff"},
              {"offset":0.725,"color":"#000"},{"offset":0.735,"color":"#000"},{"offset":0.735,"color":"#fff"},{"offset":0.75,"color":"#fff"},
              {"offset":0.75,"color":"#000"},{"offset":0.76,"color":"#000"},{"offset":0.76,"color":"#fff"},{"offset":0.775,"color":"#fff"},
              {"offset":0.775,"color":"#000"},{"offset":0.785,"color":"#000"},{"offset":0.785,"color":"#fff"},{"offset":0.8,"color":"#fff"},
              {"offset":0.8,"color":"#000"},{"offset":0.81,"color":"#000"},{"offset":0.81,"color":"#fff"},{"offset":0.825,"color":"#fff"},
              {"offset":0.825,"color":"#000"},{"offset":0.835,"color":"#000"},{"offset":0.835,"color":"#fff"},{"offset":0.85,"color":"#fff"},
              {"offset":0.85,"color":"#000"},{"offset":0.86,"color":"#000"},{"offset":0.86,"color":"#fff"},{"offset":0.875,"color":"#fff"},
              {"offset":0.875,"color":"#000"},{"offset":0.885,"color":"#000"},{"offset":0.885,"color":"#fff"},{"offset":0.9,"color":"#fff"},
              {"offset":0.9,"color":"#000"},{"offset":0.91,"color":"#000"},{"offset":0.91,"color":"#fff"},{"offset":0.925,"color":"#fff"},
              {"offset":0.925,"color":"#000"},{"offset":0.935,"color":"#000"},{"offset":0.935,"color":"#fff"},{"offset":0.95,"color":"#fff"},
              {"offset":0.95,"color":"#000"},{"offset":0.96,"color":"#000"},{"offset":0.96,"color":"#fff"},{"offset":0.975,"color":"#fff"},
              {"offset":0.975,"color":"#000"},{"offset":0.985,"color":"#000"},{"offset":0.985,"color":"#fff"},{"offset":1,"color":"#fff"}
            ]}},
          "encoding": {"x": {"field": "g", "type": "nominal"}, "y": {"field": "v", "type": "quantitative"}}
        },
        {"mark": {"type": "rule", "color": "#000", "strokeWidth": 2},
          "encoding": {"x": {"field": "g", "type": "nominal"}, "y": {"field": "v", "type": "quantitative"}, "y2": {"field": "hi"}}},
        {"mark": {"type": "tick", "color": "#000", "thickness": 2, "size": 17},
          "encoding": {"x": {"field": "g", "type": "nominal"}, "y": {"field": "hi", "type": "quantitative"}}},
        {"mark": {"type": "text", "fontSize": 13, "fontWeight": "bold", "baseline": "alphabetic", "align": "center"},
          "encoding": {"x": {"field": "g", "type": "nominal"}, "y": {"field": "sy", "type": "quantitative"}, "text": {"field": "s"}}}
      ]
    }
  ]
}
